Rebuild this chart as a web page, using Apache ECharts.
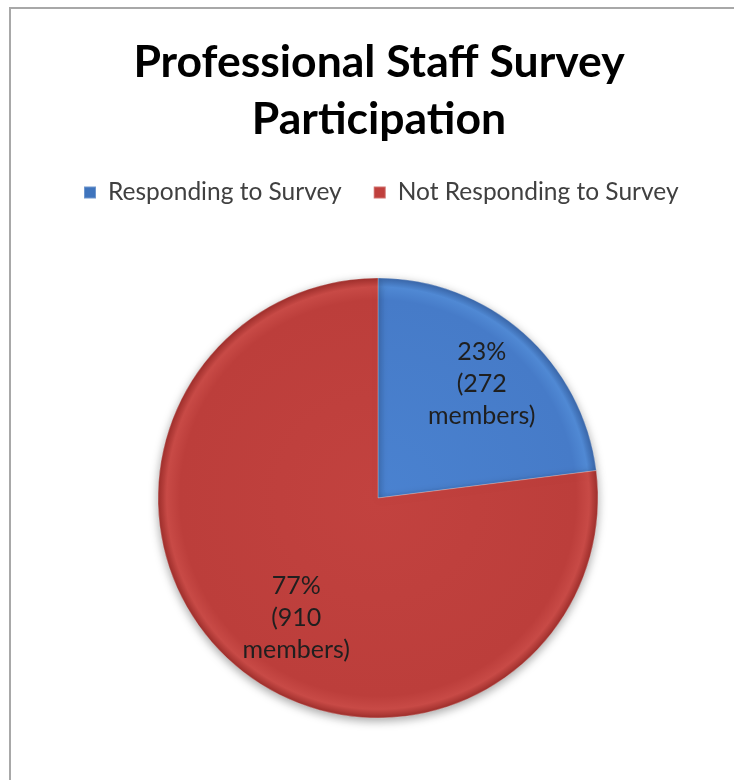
<!DOCTYPE html>
<html>
<head>
<meta charset="utf-8">
<script src="https://cdn.jsdelivr.net/npm/echarts@6/dist/echarts.min.js"></script>
<style>
html,body{margin:0;padding:0;background:#fff;}
#chart{width:734px;height:780px;}
</style>
</head>
<body>
<div id="chart"></div>
<script>
const categories = ['Responding to Survey', 'Not Responding to Survey'];
const members = [272, 910];
const percents = ['23%', '77%'];

const W = 734, H = 780;
const CX = 378, CY = 498, R = 220;

function radial(inner, mid, rim, edge) {
  return {
    type: 'radial', x: CX, y: CY, r: R, global: true,
    colorStops: [
      { offset: 0, color: inner },
      { offset: 0.9, color: mid },
      { offset: 0.96, color: rim },
      { offset: 1, color: edge }
    ]
  };
}
const fills = [
  radial('#4a82d0', '#467bc8', '#5089d4', '#3a66a8'),
  radial('#c2423f', '#bc3e3b', '#c84a46', '#9e2f2c')
];
const legendColors = ['#3f74bd', '#c0403d'];
const labelShift = [[29, -29], [-7, 35]];

const chart = echarts.init(document.getElementById('chart'), null, { renderer: 'canvas' });
chart.setOption({
  backgroundColor: '#ffffff',
  animation: false,
  graphic: [{
    type: 'rect',
    shape: { x: 10, y: 8, width: 900, height: 900 },
    style: { fill: 'none', stroke: '#a8a8a8', lineWidth: 2 },
    silent: true
  }],
  title: {
    text: 'Professional Staff Survey\nParticipation',
    left: 374,
    textAlign: 'center',
    top: 29,
    textStyle: {
      fontFamily: 'Lato', fontWeight: 'bold', fontSize: 44.5,
      lineHeight: 57, color: '#000000'
    }
  },
  legend: {
    top: 175,
    left: 78,
    itemGap: 31,
    itemWidth: 12,
    itemHeight: 12,
    icon: 'rect',
    textStyle: { fontFamily: 'Lato', fontSize: 24.5, color: '#404040', padding: [0, 0, 0, 7] },
    data: categories.map((c, i) => ({ name: c, itemStyle: { color: legendColors[i] } }))
  },
  series: [{
    type: 'pie',
    center: [CX, CY],
    radius: R,
    startAngle: 90,
    clockwise: true,
    avoidLabelOverlap: false,
    itemStyle: {
      borderColor: 'rgba(255,255,255,0.25)',
      borderWidth: 1,
      shadowBlur: 10,
      shadowOffsetY: 3,
      shadowColor: 'rgba(0,0,0,0.35)'
    },
    label: {
      show: true,
      position: 'inside',
      fontFamily: 'Lato',
      fontSize: 25,
      lineHeight: 32,
      color: '#1f1f1f',
      formatter: p => percents[p.dataIndex] + '\n(' + p.value + '\nmembers)'
    },
    labelLine: { show: false },
    labelLayout: p => ({ dx: labelShift[p.dataIndex][0], dy: labelShift[p.dataIndex][1] }),
    emphasis: { disabled: true },
    data: categories.map((c, i) => ({
      name: c, value: members[i], itemStyle: { color: fills[i] }
    }))
  }]
});
</script>
</body>
</html>
